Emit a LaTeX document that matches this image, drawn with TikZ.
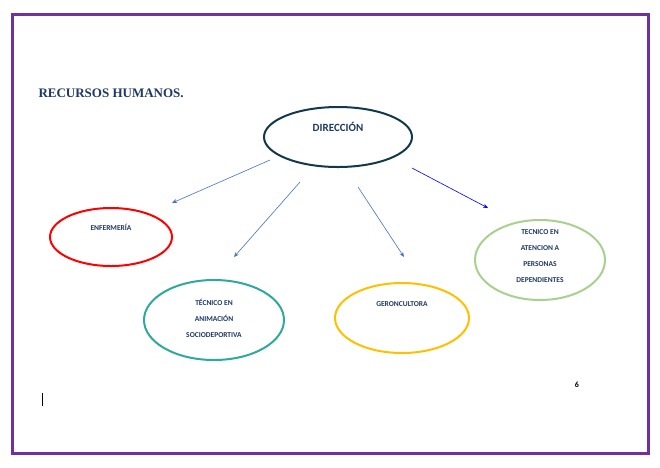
\documentclass[tikz,border=0pt]{standalone}
\usepackage{fontspec}
\setmainfont{Carlito}
\newfontfamily\titlefont{Liberation Serif}
\usetikzlibrary{shapes.geometric,arrows.meta}
\definecolor{frame}{HTML}{7030A0}
\definecolor{navy}{HTML}{1F3864}
\definecolor{darkteal}{HTML}{12394A}
\definecolor{teal}{HTML}{2FA99B}
\definecolor{amber}{HTML}{FFC000}
\definecolor{lgreen}{HTML}{A9D18E}
\definecolor{arr}{HTML}{4472C4}
\tikzset{
  oval/.style={ellipse,draw,line width=2pt,inner sep=0pt},
  lbl/.style={font=\bfseries\fontsize{7.5}{16}\selectfont,text=navy,align=center},
  conn/.style={-{Stealth[length=5pt,width=4pt]},line width=0.6pt,draw=arr},
}
\begin{document}
\begin{tikzpicture}[x=1pt,y=-1pt]
\useasboundingbox (0,0) rectangle (660,467);
\fill[white] (0,0) rectangle (660,467);
\draw[frame,line width=3pt] (12,14) rectangle (648,453);
\node[anchor=west,font=\titlefont\bfseries\fontsize{13}{15}\selectfont,text=navy] (title) at (35,93) {RECURSOS HUMANOS.};
\node[oval,draw=darkteal,minimum width=148pt,minimum height=60pt] (dir) at (338,137) {};
\node[font=\bfseries\fontsize{11}{13}\selectfont,text=navy] (dirt) at (338,127) {DIRECCIÓN};
\node[oval,draw=red,minimum width=122pt,minimum height=58pt] (enf) at (111,237) {};
\node[lbl] (enft) at (111,227) {ENFERMERÍA};
\node[oval,draw=teal,minimum width=140pt,minimum height=80pt] (ani) at (214,320) {};
\node[lbl] (anit) at (214,318) {TÉCNICO EN\\ANIMACIÓN\\SOCIODEPORTIVA};
\node[oval,draw=amber,minimum width=134pt,minimum height=70pt] (ger) at (402,318) {};
\node[lbl] (gert) at (402,304) {GERONCULTORA};
\node[oval,draw=lgreen,minimum width=130pt,minimum height=80pt] (dep) at (540,260) {};
\node[lbl] (dept) at (540,256) {TECNICO EN\\ATENCION A\\PERSONAS\\DEPENDIENTES};
\coordinate (a1s) at (270,160); \coordinate (a1e) at (172,203);
\coordinate (a2s) at (300,182); \coordinate (a2e) at (234,257);
\coordinate (a3s) at (358,187); \coordinate (a3e) at (404,257);
\coordinate (a4s) at (412,168); \coordinate (a4e) at (488,208);
\draw[conn] (a1s) -- (a1e);
\draw[conn] (a2s) -- (a2e);
\draw[conn] (a3s) -- (a3e);
\draw[conn,draw=blue] (a4s) -- (a4e);
\node[font=\bfseries\fontsize{8}{10}\selectfont] (pg) at (577,385) {6};
\draw[line width=0.8pt] (42,393) -- (42,406);
\end{tikzpicture}
\end{document}
